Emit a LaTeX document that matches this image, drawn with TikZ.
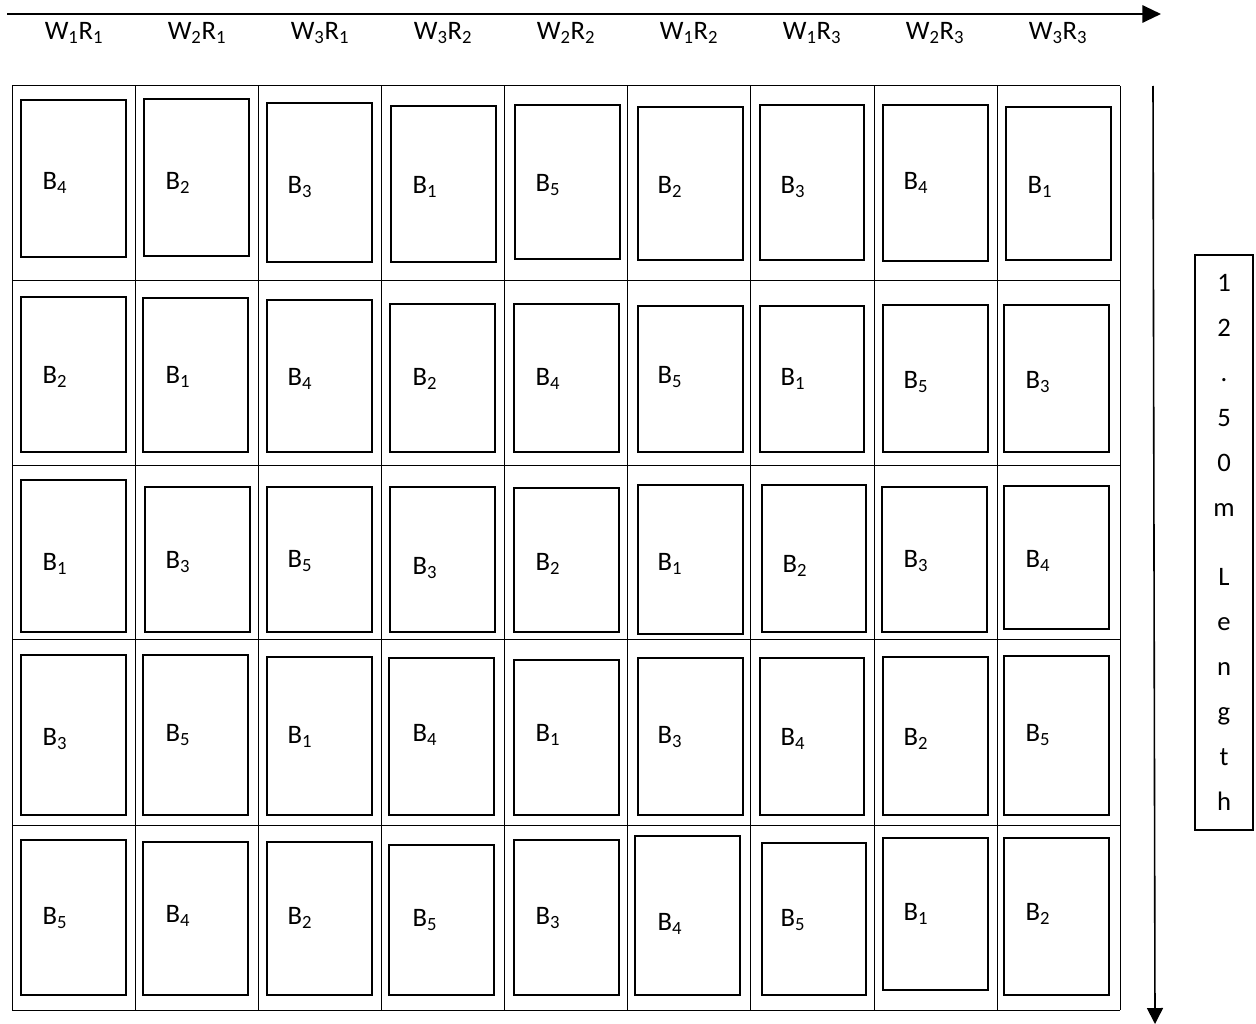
\documentclass[tikz,border=0pt]{standalone}
\usepackage{fontspec}
\setmainfont{Carlito}
\usetikzlibrary{arrows.meta}
\newcommand\lowsub[1]{\textsubscript{#1}}
\begin{document}
\begin{tikzpicture}[x=0.75pt,y=-0.75pt,
  gridline/.style={line width=0.75pt},
  plotbox/.style={line width=1.5pt},
  lbl/.style={font=\fontsize{20}{24}\selectfont, inner sep=0pt},
  axisarrow/.style={line width=1.5pt,-{Triangle[length=14pt,width=13pt]}}]
\useasboundingbox (0,0) rectangle (1256,1024);
% grid
\foreach \yy in {86,280,465,639,825,1010}
  \draw[gridline] (12,\yy) -- (1120,\yy);
\foreach \xx in {12,135,258,381,504,627,750,874,997,1120}
  \draw[gridline] (\xx,86) -- (\xx,1010);
% plot boxes
\foreach \a/\b/\c/\d in {
  21/100/126/257, 144/99/249/256, 267/103/372/262, 391/106/496/262, 515/105/620/259,
  638/107/743/260, 760/105/864/260, 883/105/988/261, 1006/107/1111/260,
  21/297/126/452, 143/298/248/452, 267/300/372/452, 390/304/495/452, 514/304/619/452,
  638/306/743/452, 760/306/864/452, 883/305/988/452, 1004/305/1109/452,
  21/480/126/632, 145/487/250/632, 267/487/372/632, 390/487/495/632, 514/488/619/632,
  638/485/743/634, 762/485/866/632, 882/487/987/632, 1004/486/1109/629,
  21/655/126/815, 143/655/248/815, 267/657/372/815, 389/658/494/815, 514/660/619/815,
  638/658/743/815, 760/658/864/815, 883/657/988/815, 1004/656/1109/815,
  21/840/126/995, 143/842/248/995, 267/842/372/995, 389/845/494/995, 514/840/619/995,
  635/836/740/995, 762/843/866/995, 883/838/988/990, 1004/838/1109/995}
  \draw[plotbox] (\a,\b) rectangle (\c,\d);
% labels
\foreach \nm/\xx/\yy/\k in {
  r1c1/55/183/4, r1c2/178/183/2, r1c3/300/187/3, r1c4/425/187/1, r1c5/548/185/5,
  r1c6/670/187/2, r1c7/793/187/3, r1c8/916/183/4, r1c9/1040/187/1,
  r2c1/55/377/2, r2c2/178/377/1, r2c3/300/379/4, r2c4/425/379/2, r2c5/548/379/4,
  r2c6/670/377/5, r2c7/793/379/1, r2c8/916/382/5, r2c9/1038/382/3,
  r3c1/55/564/1, r3c2/178/562/3, r3c3/300/561/5, r3c4/425/568/3, r3c5/548/564/2,
  r3c6/670/564/1, r3c7/795/566/2, r3c8/916/561/3, r3c9/1038/561/4,
  r4c1/55/739/3, r4c2/178/735/5, r4c3/300/737/1, r4c4/425/735/4, r4c5/548/735/1,
  r4c6/670/737/3, r4c7/793/739/4, r4c8/916/739/2, r4c9/1038/735/5,
  r5c1/55/918/5, r5c2/178/916/4, r5c3/300/918/2, r5c4/425/920/5, r5c5/548/918/3,
  r5c6/670/924/4, r5c7/793/920/5, r5c8/916/914/1, r5c9/1038/914/2}
  \node[lbl] (\nm) at (\xx,\yy) {B\lowsub{\k}};
% headers
\foreach \nm/\xx/\w/\r in {h1/74/1/1, h2/197/2/1, h3/320/3/1, h4/443/3/2, h5/566/2/2,
  h6/689/1/2, h7/812/1/3, h8/935/2/3, h9/1058/3/3}
  \node[lbl] (\nm) at (\xx,33) {W\lowsub{\w}R\lowsub{\r}};
% axes
\coordinate (ha) at (7,14);
\coordinate (hb) at (1161,14);
\draw[axisarrow] (ha) -- (hb);
\coordinate (va) at (1153,86);
\coordinate (vb) at (1155,1024);
\draw[line width=1.2pt,-{Triangle[length=12pt,width=12pt]}] (va) -- (vb);
% length box
\node[draw,line width=1.2pt,minimum width=43.5pt,minimum height=431pt,inner sep=0pt,
  align=center,font=\fontsize{20}{33.75}\selectfont] (len) at (1224,542.5)
  {1\\2\\.\\5\\0\\m\\[18pt]L\\e\\n\\g\\t\\h};
\end{tikzpicture}
\end{document}
